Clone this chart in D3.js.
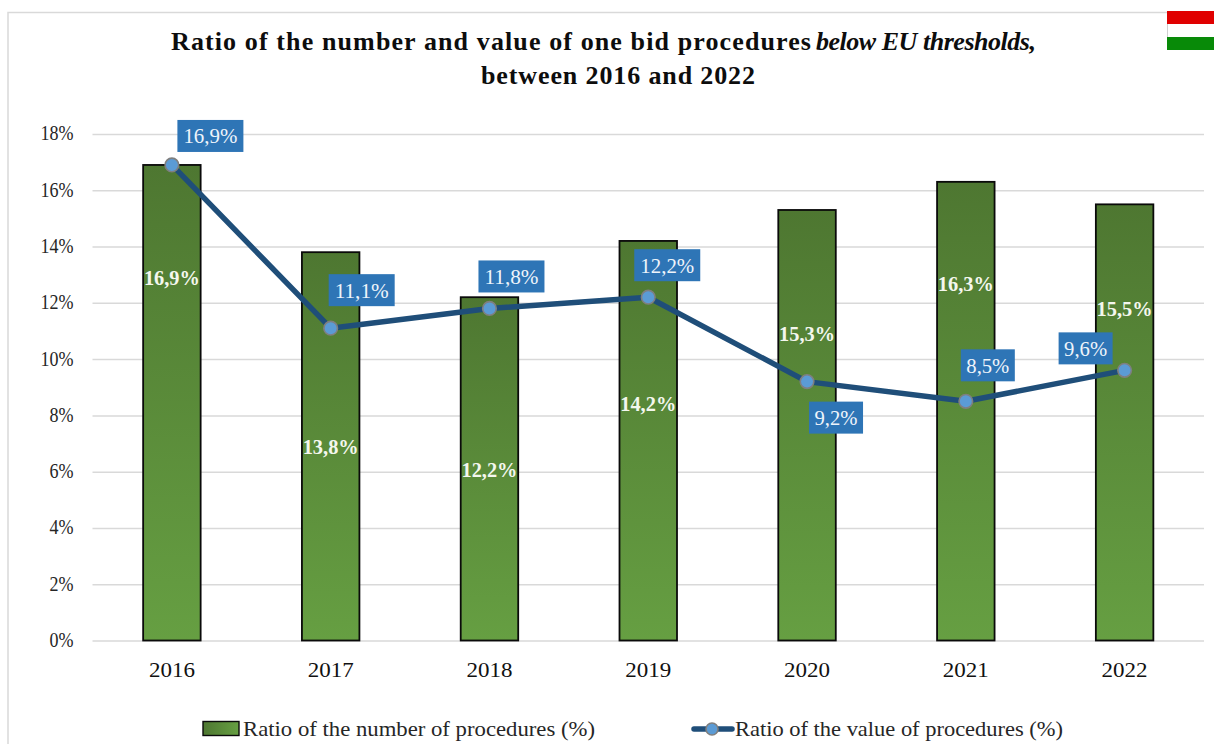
<!DOCTYPE html>
<html><head><meta charset="utf-8">
<script src="https://cdn.jsdelivr.net/npm/d3@7"></script>
<style>
html,body{margin:0;padding:0;background:#fff;overflow:hidden}
text{font-family:"Liberation Serif",serif}
</style></head><body>
<svg id="c" width="1214" height="744"></svg>
<script>
const years=["2016","2017","2018","2019","2020","2021","2022"];
const numberRatio=[16.9,13.8,12.2,14.2,15.3,16.3,15.5];
const valueRatio=[16.9,11.1,11.8,12.2,9.2,8.5,9.6];
const yTicks=[0,2,4,6,8,10,12,14,16,18];
const seriesNames=["Ratio of the number of procedures (%)","Ratio of the value of procedures (%)"];
// label placement, kept apart from the data
const barLabelY=[278,447,470,404,334,284,309];
const valueLabelOffset=[[38.5,-29],[31,-38],[22,-32],[19,-32],[29,36],[22,-36],[-39,-22]];
const fmt=v=>v.toFixed(1).replace(".",",")+"%";

const svg=d3.select("#c");
const x=d3.scaleBand().domain(years).range([92.5,1204]);
const y=d3.scaleLinear().domain([0,18]).range([640.5,134]);
const defs=svg.append("defs");
const vg=defs.append("linearGradient").attr("id","gv").attr("x1",0).attr("y1",0).attr("x2",0).attr("y2",1);
vg.append("stop").attr("offset",0).attr("stop-color","#4e7731");
vg.append("stop").attr("offset",1).attr("stop-color","#669f42");
const hg=defs.append("linearGradient").attr("id","gh");
hg.append("stop").attr("offset",0).attr("stop-color","#4e7731");
hg.append("stop").attr("offset",1).attr("stop-color","#669f42");

// frame
svg.append("path").attr("d","M8 744V12.5H1167").attr("fill","none").attr("stroke","#d9d9d9").attr("stroke-width",1.5);

// flag
const flag=["#e00000","#ffffff","#088a08"];
svg.selectAll(".flag").data(flag).join("rect").attr("class","flag")
 .attr("x",1167).attr("width",47).attr("y",(d,i)=>11+i*13).attr("height",13).attr("fill",d=>d);
svg.append("path").attr("d","M1167.5 24V37").attr("stroke","#d0d0d0").attr("stroke-width",1);

// title
const titleAttrs=s=>s.attr("font-weight","bold").attr("font-size",26).attr("fill","#0d0d0d").attr("lengthAdjust","spacing");
svg.append("text").call(titleAttrs).attr("x",171).attr("y",50).attr("textLength",640).text("Ratio of the number and value of one bid procedures");
svg.append("text").call(titleAttrs).attr("x",816).attr("y",50).attr("textLength",220).attr("font-style","italic").text("below EU thresholds,");
svg.append("text").call(titleAttrs).attr("x",481).attr("y",84).attr("textLength",274).text("between 2016 and 2022");

// grid + axis
const yAxis=d3.axisLeft(y).tickValues(yTicks).tickSize(-(1204-92.5)).tickPadding(19).tickFormat(d=>d+"%");
const gy=svg.append("g").attr("transform","translate(92.5,0)").call(yAxis);
gy.select(".domain").remove();
gy.selectAll("line").attr("stroke","#d9d9d9").attr("stroke-width",1.5);
gy.selectAll("text").attr("font-size",21).attr("fill","#262626").attr("y",0).attr("dy","0.28em")
 .attr("textLength",d=>d>=10?33:24).attr("lengthAdjust","spacingAndGlyphs");
const gx=svg.append("g").attr("transform","translate(0,640.5)").call(d3.axisBottom(x).tickSize(0).tickPadding(21));
gx.select(".domain").remove();
gx.selectAll("text").attr("font-size",21.5).attr("fill","#111").attr("textLength",46).attr("lengthAdjust","spacingAndGlyphs");

// bars
const bw=57.5;
svg.selectAll(".bar").data(years).join("rect").attr("class","bar")
 .attr("x",d=>x(d)+x.bandwidth()/2-bw/2).attr("width",bw)
 .attr("y",(d,i)=>y(numberRatio[i])).attr("height",(d,i)=>y(0)-y(numberRatio[i]))
 .attr("fill","url(#gv)").attr("stroke","#0a0a0a").attr("stroke-width",1.8);
svg.selectAll(".barl").data(years).join("text").attr("class","barl")
 .attr("x",d=>x(d)+x.bandwidth()/2).attr("y",(d,i)=>barLabelY[i]).attr("dy","0.34em")
 .attr("text-anchor","middle").attr("font-size",21.5).attr("font-weight","bold").attr("fill","#f4f7ee")
 .attr("textLength",56).attr("lengthAdjust","spacingAndGlyphs")
 .text((d,i)=>fmt(numberRatio[i]));

// line
const cx=d=>x(d)+x.bandwidth()/2;
svg.append("path").datum(years)
 .attr("d",d3.line().x(cx).y((d,i)=>y(valueRatio[i])))
 .attr("fill","none").attr("stroke","#1f4e79").attr("stroke-width",5.5).attr("stroke-linejoin","round");
svg.selectAll(".pt").data(years).join("circle").attr("class","pt")
 .attr("cx",cx).attr("cy",(d,i)=>y(valueRatio[i])).attr("r",6.8)
 .attr("fill","#5b9bd5").attr("stroke","#7f7f7f").attr("stroke-width",1.6);
const lab=svg.selectAll(".vl").data(years).join("g").attr("class","vl")
 .attr("transform",(d,i)=>`translate(${cx(d)+valueLabelOffset[i][0]},${y(valueRatio[i])+valueLabelOffset[i][1]})`);
lab.append("rect").attr("x",(d,i)=>valueRatio[i]>=10?-33:-27).attr("width",(d,i)=>valueRatio[i]>=10?66:54)
 .attr("y",-16).attr("height",32).attr("fill","#2e75b6");
lab.append("text").attr("text-anchor","middle").attr("dy","0.34em").attr("font-size",22).attr("fill","#eef4fb")
 .attr("textLength",(d,i)=>valueRatio[i]>=10?54:43).attr("lengthAdjust","spacingAndGlyphs")
 .text((d,i)=>fmt(valueRatio[i]));

// legend
svg.append("rect").attr("x",203).attr("y",721.5).attr("width",36).attr("height",14).attr("fill","url(#gh)").attr("stroke","#0a0a0a").attr("stroke-width",1.4);
svg.append("text").attr("x",243).attr("y",735.5).attr("font-size",21.5).attr("fill","#262626").attr("textLength",352).attr("lengthAdjust","spacingAndGlyphs").text(seriesNames[0]);
svg.append("line").attr("x1",694).attr("x2",732).attr("y1",729).attr("y2",729).attr("stroke","#1f4e79").attr("stroke-width",5.5).attr("stroke-linecap","round");
svg.append("circle").attr("cx",712).attr("cy",729).attr("r",6).attr("fill","#5b9bd5").attr("stroke","#7f7f7f").attr("stroke-width",1.6);
svg.append("text").attr("x",735).attr("y",735.5).attr("font-size",21.5).attr("fill","#262626").attr("textLength",328).attr("lengthAdjust","spacingAndGlyphs").text(seriesNames[1]);
</script></body></html>
